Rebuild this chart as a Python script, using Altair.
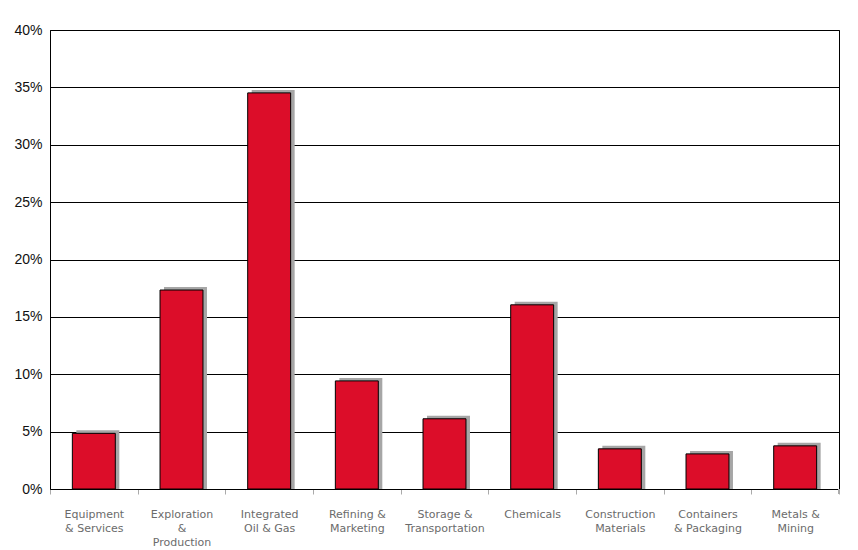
import altair as alt
import pandas as pd

categories = [
    "Equipment\n& Services",
    "Exploration\n&\nProduction",
    "Integrated\nOil & Gas",
    "Refining &\nMarketing",
    "Storage &\nTransportation",
    "Chemicals",
    "Construction\nMaterials",
    "Containers\n& Packaging",
    "Metals &\nMining",
]
values = [0.0485, 0.1734, 0.3452, 0.0942, 0.0612, 0.1605, 0.0350, 0.0306, 0.0376]
y_ticks = [0, 0.05, 0.10, 0.15, 0.20, 0.25, 0.30, 0.35, 0.40]

df = pd.DataFrame({"sector": categories, "share": values})

x_enc = alt.X(
    "sector:N",
    sort=None,
    scale=alt.Scale(paddingInner=0, paddingOuter=0),
    axis=alt.Axis(
        title=None,
        labelAngle=0,
        labelExpr="split(datum.label, '\\n')",
        labelFont="DejaVu Sans",
        labelFontSize=11,
        labelColor="#6b6b6b",
        labelLineHeight=14,
        labelPadding=14,
        labelBaseline="top",
        tickBand="extent",
        tickColor="#aaaaaa",
        tickSize=5,
        domainColor="black",
        labelLimit=200,
    ),
)

y_scale = alt.Scale(domain=[0, 0.4], nice=False)
y_axis = alt.Axis(
    title=None,
    values=y_ticks,
    format=".0%",
    grid=True,
    gridColor="black",
    gridOpacity=1,
    ticks=False,
    labelFont="Liberation Sans",
    labelFontSize=14,
    labelColor="#111111",
    labelPadding=8,
    domainColor="black",
)

shadow = alt.Chart(df).transform_calculate(
    top="datum.share + 0.0026"
).mark_bar(
    color="#a6a6a6", width={"band": 0.49}, xOffset=4
).encode(
    x=x_enc,
    y=alt.Y("top:Q", scale=y_scale, axis=y_axis),
    y2=alt.datum(0),
)

bars = alt.Chart(df).mark_bar(
    color="#dc0d29", stroke="black", strokeWidth=1, width={"band": 0.49}
).encode(
    x=x_enc,
    y=alt.Y("share:Q", scale=y_scale, axis=y_axis),
)

end_tick = alt.Chart(df).mark_rule(color="#aaaaaa").encode(
    x=alt.value(789), y=alt.value(459), y2=alt.value(464)
)

chart = alt.layer(shadow, bars, end_tick).properties(
    width=789,
    height=459,
    autosize=alt.AutoSizeParams(type="none"),
    padding={"left": 42, "top": 22, "right": 10, "bottom": 62},
).configure_view(stroke="black", strokeWidth=1)

chart.save("out.html", embed_options={"renderer": "svg", "actions": False})
